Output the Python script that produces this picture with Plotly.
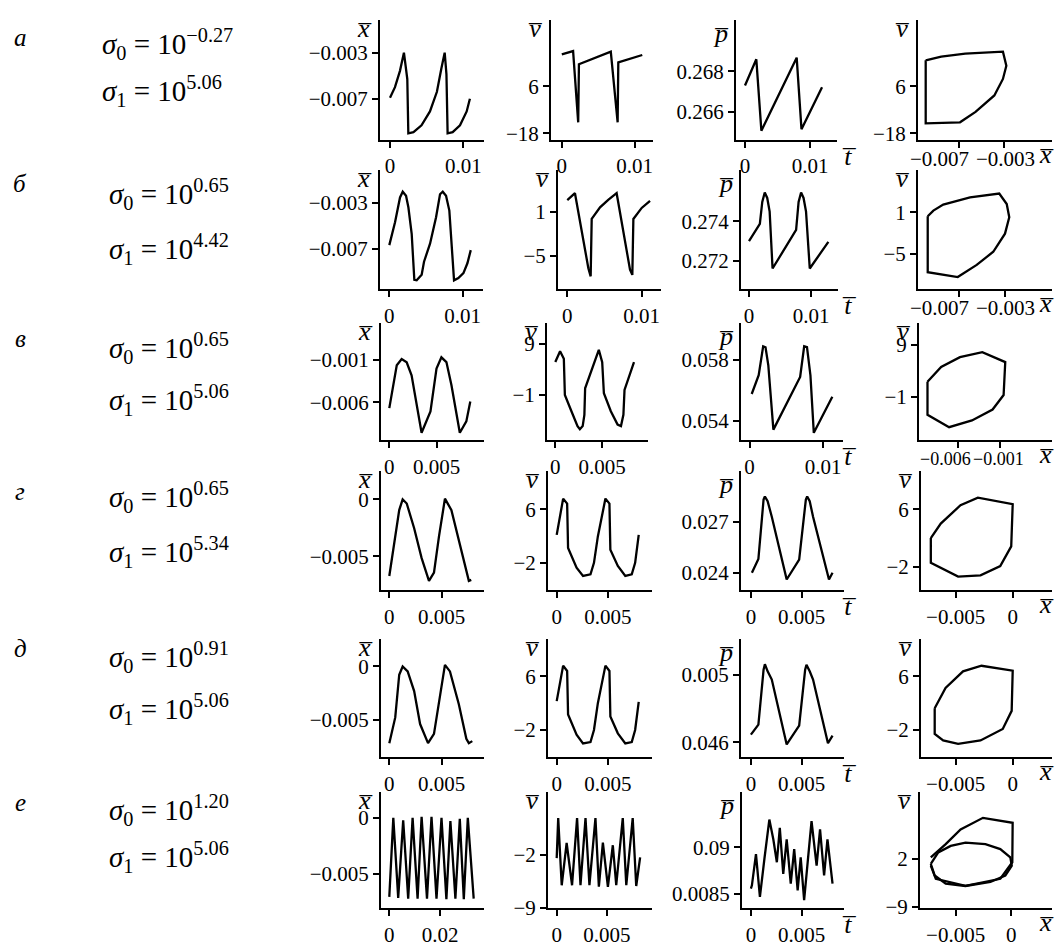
import plotly.graph_objects as go

# ---------------- data ----------------
ROW_LETTERS = ["а", "б", "в", "г", "д", "е"]
SIGMA0_EXP = ["−0.27", "0.65", "0.65", "0.65", "0.91", "1.20"]
SIGMA1_EXP = ["5.06", "4.42", "5.06", "5.34", "5.06", "5.06"]

# row а
A_T1 = [0, 0.00068, 0.00136, 0.0019, 0.00236, 0.0025, 0.0032, 0.0043, 0.00545, 0.0064, 0.0070, 0.00746, 0.0077, 0.00786, 0.00855, 0.00955, 0.01046, 0.0109]
A_X = [-0.00692, -0.0060, -0.00458, -0.0030, -0.00529, -0.0100, -0.0099, -0.0093, -0.0081, -0.0064, -0.0044, -0.0030, -0.00486, -0.0100, -0.0099, -0.0093, -0.0081, -0.0070]
A_T2 = [0, 0.00155, 0.00225, 0.00235, 0.00672, 0.00766, 0.00775, 0.01104]
A_V = [22.2, 23.9, -12.4, 17.2, 23.6, -12.4, 18.1, 21.9]
A_T3 = [0, 0.00174, 0.00252, 0.00795, 0.00869, 0.01185]
A_P = [0.2673, 0.2686, 0.26507, 0.26868, 0.26514, 0.26722]
A_PX = [-0.00994, -0.00857, -0.00645, -0.00312, -0.00282, -0.00312, -0.00388, -0.00554, -0.00691, -0.00994, -0.00994]
A_PV = [19.2, 21.1, 22.6, 23.6, 16.4, 9.7, 1.3, -7.1, -12.4, -12.9, 19.2]

# row б
B_T1 = [0, 0.00078, 0.00146, 0.00183, 0.00228, 0.0026, 0.00305, 0.00328, 0.00341, 0.00373, 0.00441, 0.00473, 0.00555, 0.00637, 0.00691, 0.00728, 0.00773, 0.00818, 0.00851, 0.00882, 0.00941, 0.0101, 0.01064, 0.0111]
B_X = [-0.0067, -0.00468, -0.0025, -0.0020, -0.00236, -0.00337, -0.0057, -0.00772, -0.00975, -0.0098, -0.00931, -0.00816, -0.00657, -0.00424, -0.00222, -0.0020, -0.00236, -0.00366, -0.00657, -0.0098, -0.0096, -0.00917, -0.0083, -0.00714]
B_T2 = [0, 0.00103, 0.00283, 0.00314, 0.00328, 0.0044, 0.0055, 0.00663, 0.00843, 0.00874, 0.00888, 0.0100, 0.01112]
B_V = [2.56, 3.5, -6.7, -7.8, 0.0, 1.58, 2.6, 3.5, -6.9, -7.6, 0.0, 1.5, 2.47]
B_T3 = [0, 0.00175, 0.00214, 0.00254, 0.00294, 0.00333, 0.0038, 0.0076, 0.008, 0.0084, 0.0088, 0.0092, 0.0098, 0.0128]
B_P = [0.2730, 0.27388, 0.2750, 0.27548, 0.2752, 0.2745, 0.2716, 0.27357, 0.2750, 0.27548, 0.2752, 0.2745, 0.2716, 0.27296]
B_PX = [-0.00972, -0.00972, -0.00711, -0.00546, -0.00402, -0.0030, -0.00263, -0.00285, -0.0035, -0.00604, -0.00837, -0.00923, -0.00972]
B_PV = [0.43, -7.6, -8.3, -6.56, -4.67, -2.07, 0.29, 2.18, 3.7, 3.13, 2.1, 1.24, 0.43]

# row в
C_T1 = [0, 0.00079, 0.00131, 0.00184, 0.00236, 0.00342, 0.00436, 0.005, 0.00552, 0.00605, 0.00658, 0.00747, 0.00816, 0.00858]
C_X = [-0.0067, -0.00166, -0.00092, -0.0013, -0.00283, -0.0096, -0.0071, -0.00205, -0.00072, -0.00128, -0.00399, -0.0096, -0.00826, -0.00593]
C_T2 = [0, 0.00051, 0.00091, 0.00102, 0.00172, 0.00237, 0.00262, 0.00292, 0.0031, 0.00318, 0.00464, 0.005, 0.00518, 0.00592, 0.00664, 0.007, 0.00726, 0.00738, 0.00839]
C_V = [5.44, 7.57, 6.1, -1.0, -4.2, -7.1, -7.7, -7.1, -4.9, 0.3, 7.84, 5.44, -0.67, -4.2, -6.8, -7.1, -4.9, -0.03, 5.44]
C_T3 = [0.0003, 0.00125, 0.00186, 0.00218, 0.00256, 0.00325, 0.00689, 0.00744, 0.00782, 0.00829, 0.00875, 0.01127]
C_P = [0.05575, 0.05698, 0.05888, 0.05882, 0.05763, 0.05341, 0.05687, 0.05888, 0.05882, 0.05698, 0.0532, 0.05557]
C_PX = [-0.00976, -0.00976, -0.00713, -0.00435, -0.00184, -0.0005, -0.0003, -0.00309, -0.00581, -0.0081, -0.00976]
C_PV = [1.86, -4.5, -6.9, -5.6, -3.5, -0.68, 5.68, 7.6, 6.63, 4.73, 1.86]

# row г
D_T1 = [0, 0.00048, 0.00095, 0.00128, 0.00167, 0.00238, 0.00309, 0.0038, 0.00428, 0.00476, 0.00533, 0.00595, 0.00666, 0.00738, 0.00762, 0.00785]
D_X = [-0.00674, -0.00385, -0.00095, 0, -0.00037, -0.00254, -0.00515, -0.00717, -0.00645, -0.00326, 0.00006, -0.00095, -0.00356, -0.00645, -0.00717, -0.00708]
D_T2 = [0, 0.00063, 0.00102, 0.00111, 0.00194, 0.00257, 0.0033, 0.00364, 0.00402, 0.00476, 0.00515, 0.00524, 0.00597, 0.0067, 0.00733, 0.00766, 0.00801]
D_V = [2.17, 7.58, 6.84, 0.21, -2.73, -3.96, -3.72, -2.0, 1.94, 7.58, 6.84, -0.04, -2.48, -3.96, -3.72, -2.0, 2.17]
D_T3 = [0.0001, 0.00074, 0.00125, 0.00138, 0.00165, 0.00206, 0.00353, 0.00476, 0.00542, 0.00555, 0.0058, 0.00613, 0.0077, 0.00805]
D_P = [0.024, 0.02481, 0.0283, 0.02848, 0.0282, 0.02729, 0.0236, 0.02477, 0.0283, 0.02848, 0.0282, 0.02729, 0.0236, 0.024]
D_PX = [-0.00717, -0.00717, -0.00478, -0.00282, -0.00109, -0.00013, 0, -0.00305, -0.00457, -0.0063, -0.00717]
D_PV = [1.98, -1.45, -3.37, -3.19, -1.9, 0.84, 6.69, 7.6, 6.55, 4.0, 1.98]

# row д
E_T1 = [0, 0.00057, 0.00095, 0.00128, 0.00176, 0.00238, 0.00295, 0.00371, 0.00428, 0.00486, 0.00533, 0.00581, 0.00666, 0.00738, 0.00762, 0.00795]
E_X = [-0.00715, -0.00475, -0.00077, 0, -0.00046, -0.0023, -0.00537, -0.00715, -0.00628, -0.00292, 0.00015, -0.00046, -0.00352, -0.00674, -0.00715, -0.00696]
E_T2 = [0, 0.00063, 0.00102, 0.00111, 0.00194, 0.00257, 0.0033, 0.00364, 0.00402, 0.00476, 0.00515, 0.00524, 0.00597, 0.0067, 0.00733, 0.00766, 0.00801]
E_V = [2.3, 7.6, 6.8, 0.3, -2.7, -4.0, -3.8, -2.0, 2.0, 7.6, 6.8, 0.0, -2.5, -4.0, -3.8, -2.0, 2.2]
E_T3 = [0, 0.00074, 0.00125, 0.00138, 0.00165, 0.00206, 0.00353, 0.00476, 0.00535, 0.00548, 0.0058, 0.00613, 0.0076, 0.00805]
E_P = [0.04645, 0.04704, 0.0503, 0.05062, 0.0502, 0.04971, 0.04587, 0.04698, 0.0503, 0.05058, 0.0502, 0.04971, 0.04594, 0.04639]
E_PX = [-0.00683, -0.00683, -0.00609, -0.00478, -0.00282, -0.00087, -0.00009, 0, -0.00273, -0.00435, -0.00588, -0.00683]
E_PV = [1.24, -2.59, -3.57, -4.06, -3.57, -1.85, 0.85, 6.84, 7.58, 6.74, 4.28, 1.24]

# row е
F_T1 = [0, 0.00158, 0.00351, 0.00548, 0.00745, 0.00919, 0.01116, 0.01274, 0.01487, 0.01665, 0.01862, 0.02059, 0.02252, 0.0241, 0.02607, 0.02781, 0.02939, 0.03097, 0.03329]
F_X = [-0.00706, 0, -0.00715, -0.00021, -0.00721, 0, -0.00721, 0.00009, -0.00721, 0.00009, -0.00721, 0, -0.00727, -0.00029, -0.00721, -0.00009, -0.00727, 0, -0.00721]
F_T2 = [0, 0.00015, 0.0005, 0.00099, 0.00153, 0.00203, 0.00237, 0.00287, 0.00326, 0.00386, 0.0042, 0.0046, 0.0051, 0.00559, 0.00593, 0.00658, 0.00693, 0.00757, 0.00792, 0.00831]
F_V = [-2.4, 2.9, -6.0, -0.4, -6.0, 2.9, -6.0, 2.9, -6.0, 2.9, -6.2, -0.35, -6.2, -0.7, -6.0, 2.9, -6.0, 2.9, -6.1, -2.3]
F_T3 = [0, 0.0001, 0.0005, 0.00089, 0.00133, 0.00182, 0.00221, 0.00256, 0.00285, 0.00319, 0.00353, 0.00393, 0.00427, 0.00461, 0.00491, 0.00525, 0.0056, 0.00598, 0.00648, 0.00682, 0.00722, 0.00755, 0.00805]
F_P = [0.008554, 0.008589, 0.008928, 0.008465, 0.008875, 0.009303, 0.009089, 0.00884, 0.009214, 0.008714, 0.009089, 0.008607, 0.008982, 0.008535, 0.008893, 0.008428, 0.00884, 0.009285, 0.008803, 0.009196, 0.008696, 0.009089, 0.008607]
F_OX = [-0.00723, -0.00589, -0.00455, -0.00254, 0.00013, 0.0001, -0.00098, -0.00411, -0.00678, -0.00723]
F_OV = [2.39, 5.42, 8.83, 11.5, 10.36, 1.25, -2.56, -4.2, -2.56, 0.47]
F_IX = [-0.00723, -0.00656, -0.00544, -0.00411, -0.00232, -0.00098, -0.00008, 0.00005, -0.00053, -0.00187, -0.00411, -0.00589, -0.00688, -0.00723]
F_IV = [0.86, 3.52, 5.03, 5.8, 5.42, 4.28, 2.39, 0.47, -1.8, -3.3, -4.22, -3.7, -1.8, 0.86]

# tick values / labels
T_01 = ([0, 0.01], ["0", "0.01"])
T_005 = ([0, 0.005], ["0", "0.005"])
T_02 = ([0, 0.02], ["0", "0.02"])
A_YT1 = ([-0.003, -0.007], ["−0.003", "−0.007"])
A_YT2 = ([6, -18], ["6", "−18"])
A_YT3 = ([0.268, 0.266], ["0.268", "0.266"])
A_XT4 = ([-0.007, -0.003], ["−0.007", "−0.003"])
B_YT2 = ([1, -5], ["1", "−5"])
B_YT3 = ([0.274, 0.272], ["0.274", "0.272"])
C_YT1 = ([-0.001, -0.006], ["−0.001", "−0.006"])
C_YT2 = ([9, -1], ["9", "−1"])
C_YT3 = ([0.058, 0.054], ["0.058", "0.054"])
C_XT4 = ([-0.006, -0.001], ["−0.006", "−0.001"])
D_YT1 = ([0, -0.005], ["0", "−0.005"])
D_YT2 = ([6, -2], ["6", "−2"])
D_YT3 = ([0.027, 0.024], ["0.027", "0.024"])
D_XT4 = ([-0.005, 0], ["−0.005", "0"])
E_YT3 = ([0.050, 0.046], ["0.005", "0.046"])
F_YT2 = ([-2, -9], ["−2", "−9"])
F_YT3 = ([0.0090, 0.0085], ["0.09", "0.0085"])
F_YT4 = ([2, -9], ["2", "−9"])

# ---------------- layout ----------------
W, H = 1057, 951
FONT = "Liberation Serif"
TICK_SIZE = 21
ROWS = [(20, 142), (172, 293), (327, 446), (477, 598), (647, 767), (802, 920)]


def lin(v1, p1, v2, p2, p):
    return v1 + (p - p1) * (v2 - v1) / (p2 - p1)


# panel: row, x-dom px, xticks, x tick px, yticks, y tick px, series, (label centers px, font size) for x labels drawn as text
P = [
    (0, (380, 484), T_01, (390, 463.3), A_YT1, (53.3, 100), [(A_T1, A_X)], None),
    (0, (551, 653), T_01, (561.8, 634.7), A_YT2, (87.3, 135), [(A_T2, A_V)], None),
    (0, (736, 837), T_01, (745, 810), A_YT3, (72.3, 113.3), [(A_T3, A_P)], None),
    (0, (918, 1052), A_XT4, (959, 1004.3), A_YT2, (87.3, 135), [(A_PX, A_PV)], ((939, 1005), 21)),
    (1, (380, 483), T_01, (389.3, 462.7), A_YT1, (205.7, 251.7), [(B_T1, B_X)], None),
    (1, (558, 661), T_01, (567.3, 641.7), B_YT2, (214.3, 259), [(B_T2, B_V)], None),
    (1, (741, 838), T_01, (749, 811), B_YT3, (224.3, 264), [(B_T3, B_P)], None),
    (1, (918, 1052), A_XT4, (959, 1005), B_YT2, (215, 257.3), [(B_PX, B_PV)], ((939, 1005), 21)),
    (2, (381, 484), T_005, (389.3, 436.5), C_YT1, (364.3, 407.3), [(C_T1, C_X)], None),
    (2, (547, 648), T_005, (555.3, 602.2), C_YT2, (348.3, 400), [(C_T2, C_V)], None),
    (2, (741, 843), T_01, (749.5, 823), C_YT3, (364.3, 426), [(C_T3, C_P)], None),
    (2, (919, 1052), C_XT4, (958.4, 999.5), C_YT2, (349.3, 401.7), [(C_PX, C_PV)], ((945, 998), 18)),
    (3, (381, 484), T_005, (389.3, 441.5), D_YT1, (505.7, 563.3), [(D_T1, D_X)], None),
    (3, (548, 652), T_005, (556.7, 607.9), D_YT2, (515.7, 570), [(D_T2, D_V)], None),
    (3, (741, 844), T_005, (750.9, 801.6), D_YT3, (528.3, 580), [(D_T3, D_P)], None),
    (3, (921, 1052), D_XT4, (955.6, 1012.7), D_YT2, (515.7, 574), [(D_PX, D_PV)], None),
    (4, (381, 484), T_005, (389.3, 441.5), D_YT1, (675, 729.3), [(E_T1, E_X)], None),
    (4, (548, 652), T_005, (556.7, 607.9), D_YT2, (685, 739.3), [(E_T2, E_V)], None),
    (4, (741, 844), T_005, (750.9, 801.6), E_YT3, (683.3, 751.7), [(E_T3, E_P)], None),
    (4, (921, 1052), D_XT4, (955.6, 1012.7), D_YT2, (685, 739.3), [(E_PX, E_PV)], None),
    (5, (381, 484), T_02, (389.3, 440), D_YT1, (828.3, 885), [(F_T1, F_X)], None),
    (5, (548, 652), T_005, (556.7, 606.9), F_YT2, (866, 919.5), [(F_T2, F_V)], None),
    (5, (742, 844), T_005, (750.9, 801.6), F_YT3, (858.3, 905), [(F_T3, F_P)], None),
    (5, (920, 1052), D_XT4, (955.6, 1011.2), F_YT4, (870, 918.3), [(F_OX, F_OV), (F_IX, F_IV)], None),
]

fig = go.Figure()
layout = dict(
    width=W, height=H, margin=dict(l=0, r=0, t=0, b=0),
    paper_bgcolor="white", plot_bgcolor="white", showlegend=False,
    font=dict(family=FONT, color="black", size=TICK_SIZE),
)
ann = []
axis_common = dict(
    showline=True, linecolor="black", linewidth=2, ticks="outside", ticklen=6,
    tickwidth=2, tickcolor="black", showgrid=False, zeroline=False,
    tickangle=0, fixedrange=True, tickfont=dict(family=FONT, size=TICK_SIZE, color="black"),
)

for k, (r, (x0, x1), xt, xtp, yt, ytp, series, xlab) in enumerate(P, start=1):
    T, B = ROWS[r]
    xs = "x" if k == 1 else f"x{k}"
    ys = "y" if k == 1 else f"y{k}"
    xr = [lin(xt[0][0], xtp[0], xt[0][1], xtp[1], x0), lin(xt[0][0], xtp[0], xt[0][1], xtp[1], x1)]
    yr = [lin(yt[0][0], ytp[0], yt[0][1], ytp[1], B), lin(yt[0][0], ytp[0], yt[0][1], ytp[1], T)]
    for sx, sy in series:
        fig.add_trace(go.Scatter(x=sx, y=sy, mode="lines", xaxis=xs, yaxis=ys,
                                 line=dict(color="black", width=2.3), hoverinfo="skip"))
    xa = dict(axis_common, domain=[x0 / W, x1 / W], range=xr, anchor=ys,
              tickvals=xt[0], ticktext=xt[1], showticklabels=xlab is None)
    ya = dict(axis_common, domain=[1 - B / H, 1 - T / H], range=yr, anchor=xs,
              tickvals=yt[0], ticktext=yt[1])
    layout["xaxis" if k == 1 else f"xaxis{k}"] = xa
    layout["yaxis" if k == 1 else f"yaxis{k}"] = ya
    if xlab is not None:
        centers, fs = xlab
        for cx, txt in zip(centers, xt[1]):
            ann.append(dict(x=cx / W, y=1 - (B + 19) / H, xref="paper", yref="paper",
                            text=txt, showarrow=False, xanchor="center", yanchor="middle",
                            font=dict(family=FONT, size=fs, color="black")))


def ol(ch):
    return f"<i>{ch}\u0305</i>"


COL_LETTERS = ["x", "v", "p", "v"]
for k, (r, (x0, x1), *_rest) in enumerate(P):
    T, B = ROWS[r]
    c = k % 4
    ch = COL_LETTERS[c]
    dy = 14 if ch == "p" else 9
    ann.append(dict(x=(x0 - 16) / W, y=1 - (T + dy) / H, xref="paper", yref="paper",
                    text=ol(ch), showarrow=False, xanchor="center", yanchor="middle",
                    font=dict(family=FONT, size=26, color="black")))
    if c == 2:
        ann.append(dict(x=849 / W, y=1 - (B + 16) / H, xref="paper", yref="paper",
                        text=ol("t"), showarrow=False, xanchor="center", yanchor="middle",
                        font=dict(family=FONT, size=26, color="black")))
    if c == 3:
        ann.append(dict(x=1046 / W, y=1 - (B + 14) / H, xref="paper", yref="paper",
                        text=ol("x"), showarrow=False, xanchor="center", yanchor="middle",
                        font=dict(family=FONT, size=26, color="black")))

LETTER_Y = [38, 186, 343, 498, 657, 813]
SIG0_Y = [45, 196, 352, 503, 665, 820]
SIG1_Y = [92, 252, 405, 559, 718, 868]
SIG_X = [100, 107, 107, 107, 107, 107]
for i in range(6):
    ann.append(dict(x=20 / W, y=1 - LETTER_Y[i] / H, xref="paper", yref="paper",
                    text=f"<i>{ROW_LETTERS[i]}</i>", showarrow=False, xanchor="center",
                    yanchor="middle", font=dict(family=FONT, size=25, color="black")))
    ann.append(dict(x=SIG_X[i] / W, y=1 - SIG0_Y[i] / H, xref="paper", yref="paper",
                    text=f"<i>σ</i><sub>0</sub> = 10<sup>{SIGMA0_EXP[i]}</sup>", showarrow=False,
                    xanchor="left", yanchor="middle", font=dict(family=FONT, size=29, color="black")))
    ann.append(dict(x=SIG_X[i] / W, y=1 - SIG1_Y[i] / H, xref="paper", yref="paper",
                    text=f"<i>σ</i><sub>1</sub> = 10<sup>{SIGMA1_EXP[i]}</sup>", showarrow=False,
                    xanchor="left", yanchor="middle", font=dict(family=FONT, size=29, color="black")))

layout["annotations"] = ann
fig.update_layout(**layout)
fig.write_html("out.html")
